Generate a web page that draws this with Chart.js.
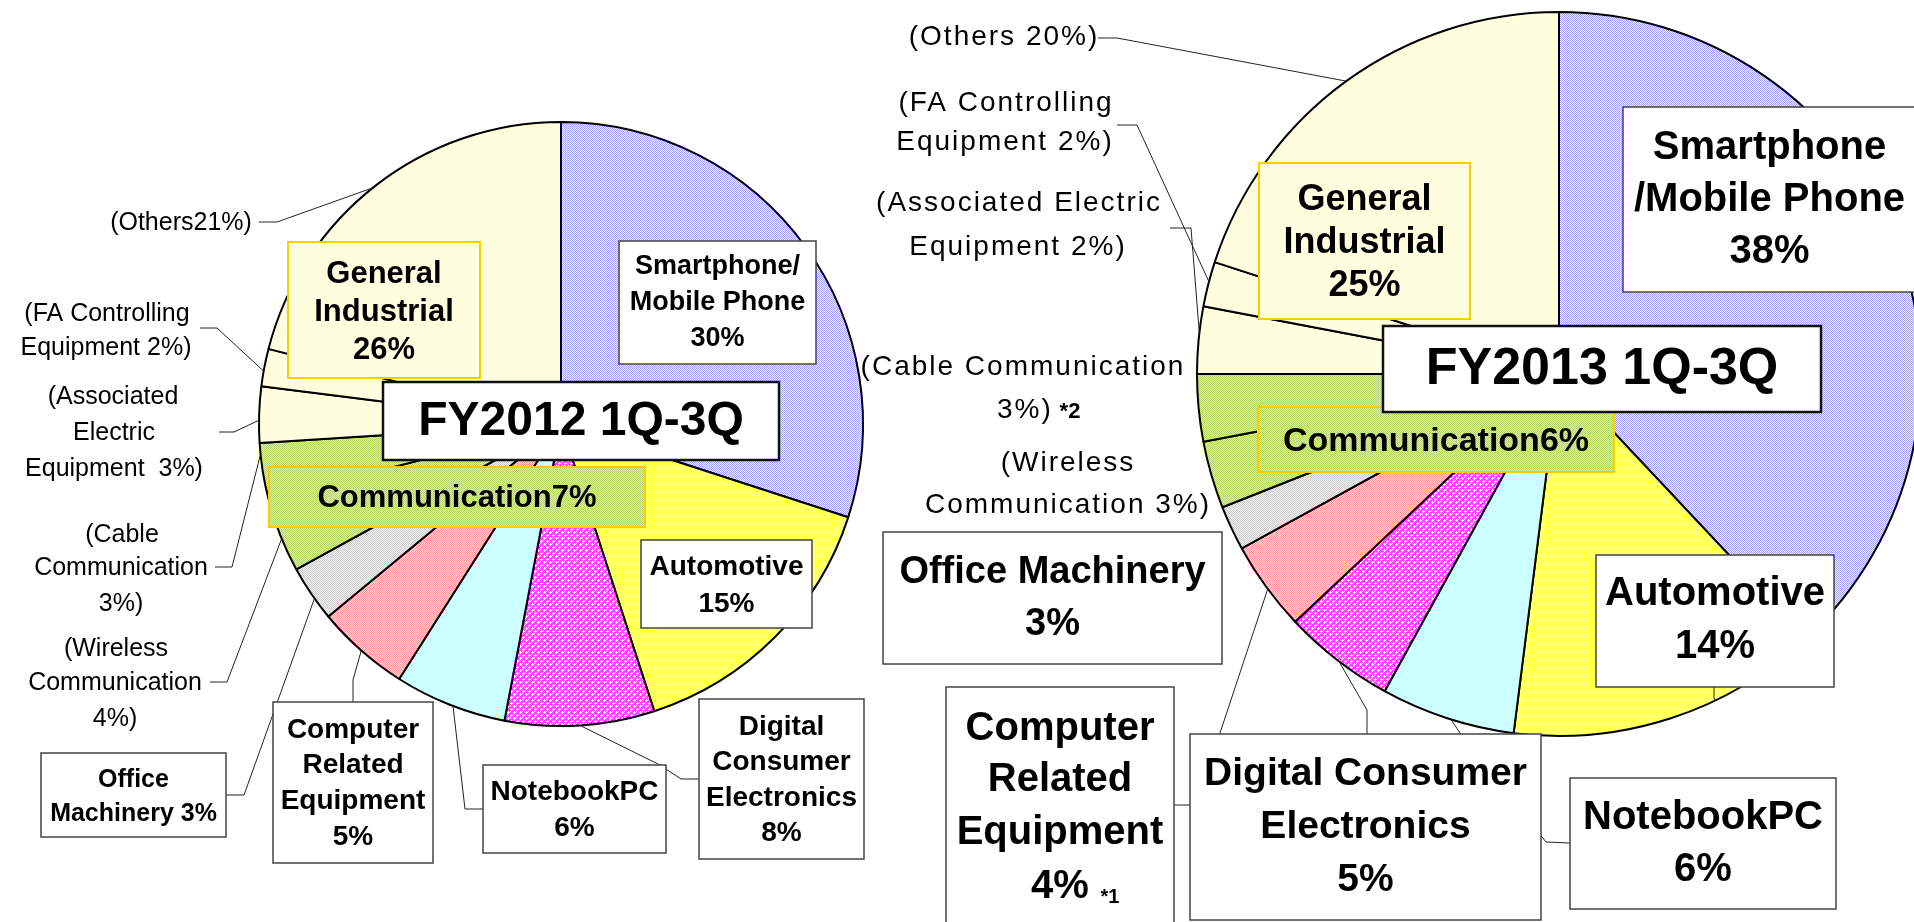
<!DOCTYPE html>
<html lang="en">
<head>
<meta charset="UTF-8">
<title>Sales by application FY2012 / FY2013 1Q-3Q</title>
<script src="https://cdn.jsdelivr.net/npm/chart.js"></script>
<style>
  html, body { margin: 0; padding: 0; background: #fff; overflow: hidden; width: 1914px; height: 922px; }
  canvas { position: absolute; left: 0; top: 0; }
</style>
</head>
<body>
<canvas id="pie2012" width="1914" height="922"></canvas>
<canvas id="pie2013" width="1930" height="922"></canvas>
<script>
// slices run clockwise from 12 o'clock
const segments2012 = ['Smartphone/Mobile Phone', 'Automotive', 'Digital Consumer Electronics', 'NotebookPC',
  'Computer Related Equipment', 'Office Machinery', 'Wireless Communication', 'Cable Communication',
  'Associated Electric Equipment', 'FA Controlling Equipment', 'Others'];
const share2012 = [30, 15, 8, 6, 5, 3, 4, 3, 3, 2, 21];

const segments2013 = ['Smartphone/Mobile Phone', 'Automotive', 'NotebookPC', 'Digital Consumer Electronics',
  'Computer Related Equipment', 'Office Machinery', 'Wireless Communication', 'Cable Communication',
  'Associated Electric Equipment', 'FA Controlling Equipment', 'Others'];
const share2013 = [38, 14, 6, 5, 4, 2, 3, 3, 3, 2, 20];

const FONT = "'Liberation Sans', Arial, sans-serif";

// small dithered fills like the original clip-art patterns
function tile(ctx, w, h, base, dotColor, dots) {
  const c = document.createElement('canvas');
  c.width = w; c.height = h;
  const g = c.getContext('2d');
  g.fillStyle = base;
  g.fillRect(0, 0, w, h);
  g.fillStyle = dotColor;
  dots.forEach(([x, y]) => g.fillRect(x, y, 1, 1));
  return ctx.createPattern(c, 'repeat');
}

function fills(ctx) {
  const chk = [[1, 0], [0, 1]];
  return {
    'Smartphone/Mobile Phone': tile(ctx, 2, 2, '#a8a8ff', '#e6e6ff', chk),
    'Automotive': tile(ctx, 2, 2, '#ffff55', '#ffffaa', chk),
    'Digital Consumer Electronics': tile(ctx, 6, 6, '#ff44ff', '#ffffff',
      [[1, 0], [0, 1], [1, 1], [2, 1], [1, 2], [4, 3], [3, 4], [4, 4], [5, 4], [4, 5], [0, 3], [3, 0]]),
    'NotebookPC': tile(ctx, 8, 8, '#ccffff', '#ffffff', [[1, 1], [5, 5]]),
    'Computer Related Equipment': tile(ctx, 2, 2, '#ff9c9c', '#ffd0d0', chk),
    'Office Machinery': tile(ctx, 2, 2, '#cfcfcf', '#eeeeee', chk),
    'Wireless Communication': tile(ctx, 2, 2, '#b5d66a', '#dcedaa', chk),
    'Cable Communication': tile(ctx, 2, 2, '#b5d66a', '#dcedaa', chk),
    'Associated Electric Equipment': '#ffffe0',
    'FA Controlling Equipment': '#ffffe0',
    'Others': '#ffffe0'
  };
}

function notesPlugin(cfg) {
  return {
    id: 'notes',
    afterDraw(chart) {
      const ctx = chart.ctx;
      const arcs = chart.getDatasetMeta(0).data;
      ctx.save();

      // leader lines, ending on the edge of their slice
      ctx.strokeStyle = '#222';
      ctx.lineWidth = 1;
      cfg.leaders.forEach(l => {
        const arc = arcs[l.slice];
        const a = arc.startAngle + l.at * (arc.endAngle - arc.startAngle);
        const r = arc.outerRadius;
        ctx.beginPath();
        ctx.moveTo(l.path[0][0], l.path[0][1]);
        l.path.slice(1).forEach(p => ctx.lineTo(p[0], p[1]));
        ctx.lineTo(arc.x + r * Math.cos(a), arc.y + r * Math.sin(a));
        ctx.stroke();
      });

      // boxed labels
      ctx.textAlign = 'center';
      ctx.textBaseline = 'middle';
      cfg.boxes.forEach(b => {
        ctx.fillStyle = b.fill || '#fff';
        ctx.fillRect(b.x1, b.y1, b.x2 - b.x1, b.y2 - b.y1);
        ctx.strokeStyle = b.stroke || '#444';
        ctx.lineWidth = b.lw || 1.5;
        ctx.strokeRect(b.x1, b.y1, b.x2 - b.x1, b.y2 - b.y1);
        ctx.fillStyle = '#000';
        ctx.font = 'bold ' + b.size + 'px ' + FONT;
        const cx = (b.x1 + b.x2) / 2;
        b.lines.forEach((t, i) => ctx.fillText(t, cx, b.ys[i]));
      });

      // plain labels
      cfg.texts.forEach(t => {
        ctx.font = (t.bold ? 'bold ' : '') + t.size + 'px ' + FONT;
        ctx.letterSpacing = (t.spacing || 0) + 'px';
        ctx.textAlign = t.align || 'center';
        ctx.fillStyle = '#000';
        ctx.fillText(t.text, t.x, t.y);
      });
      ctx.letterSpacing = '0px';
      ctx.restore();
    }
  };
}

function makePie(id, labels, values, pad, notes) {
  const canvas = document.getElementById(id);
  const f = fills(canvas.getContext('2d'));
  return new Chart(canvas, {
    type: 'pie',
    data: {
      labels: labels,
      datasets: [{
        data: values,
        backgroundColor: labels.map(l => f[l]),
        borderColor: '#000',
        borderWidth: 2
      }]
    },
    options: {
      responsive: false,
      animation: false,
      layout: { padding: pad },
      plugins: { legend: { display: false }, tooltip: { enabled: false } }
    },
    plugins: [notesPlugin(notes)]
  });
}

const gold = '#ffcc00';
const lightYellow = '#ffffe0';
const greenFill = c => tile(c, 2, 2, '#b5d66a', '#dcedaa', [[1, 0], [0, 1]]);

const ctx12 = document.getElementById('pie2012').getContext('2d');
const ctx13 = document.getElementById('pie2013').getContext('2d');

const small12 = (text, x, y) => ({ text, x, y, size: 25 });
const small13 = (text, x, y, align) => ({ text, x, y, size: 28, spacing: 2, align });

makePie('pie2012', segments2012, share2012, { left: 258, top: 121, right: 1050, bottom: 195 }, {
  leaders: [
    { slice: 10, at: 0.49, path: [[259, 222], [277, 222]] },
    { slice: 9, at: 0.4, path: [[200, 328], [217, 328]] },
    { slice: 8, at: 0.4, path: [[219, 432], [234, 432]] },
    { slice: 7, at: 0.8, path: [[215, 567], [232, 567]] },
    { slice: 6, at: 0.45, path: [[210, 682], [227, 682]] },
    { slice: 5, at: 0.4, path: [[226, 795], [244, 795]] },
    { slice: 4, at: 0.5, path: [[353, 702], [353, 680]] },
    { slice: 3, at: 0.47, path: [[483, 809], [465, 809]] },
    { slice: 2, at: 0.5, path: [[699, 779], [681, 779], [660, 765]] }
  ],
  boxes: [
    { x1: 619, y1: 241, x2: 816, y2: 364, lines: ['Smartphone/', 'Mobile Phone', '30%'], ys: [267, 303, 339], size: 27 },
    { x1: 288, y1: 242, x2: 480, y2: 378, fill: lightYellow, stroke: gold, lw: 2, lines: ['General', 'Industrial', '26%'], ys: [274, 312, 350], size: 31 },
    { x1: 383, y1: 382, x2: 779, y2: 460, stroke: '#111', lw: 2.5, lines: ['FY2012 1Q-3Q'], ys: [422], size: 48 },
    { x1: 269, y1: 467, x2: 645, y2: 527, fill: greenFill(ctx12), stroke: gold, lw: 2, lines: ['Communication7%'], ys: [498], size: 31 },
    { x1: 641, y1: 540, x2: 812, y2: 628, lines: ['Automotive', '15%'], ys: [567, 604], size: 28 },
    { x1: 699, y1: 699, x2: 864, y2: 859, lines: ['Digital', 'Consumer', 'Electronics', '8%'], ys: [727, 762, 798, 833], size: 28 },
    { x1: 483, y1: 765, x2: 666, y2: 853, lines: ['NotebookPC', '6%'], ys: [792, 828], size: 28 },
    { x1: 273, y1: 702, x2: 433, y2: 863, lines: ['Computer', 'Related', 'Equipment', '5%'], ys: [730, 765, 801, 837], size: 28 },
    { x1: 41, y1: 753, x2: 226, y2: 837, lines: ['Office', 'Machinery 3%'], ys: [780, 814], size: 25 }
  ],
  texts: [
    small12('(Others21%)', 181, 223),
    small12('(FA Controlling', 107, 314), small12('Equipment 2%)', 106, 348),
    small12('(Associated', 113, 397), small12('Electric', 114, 433), small12('Equipment  3%)', 114, 469),
    small12('(Cable', 122, 535), small12('Communication', 121, 568), small12('3%)', 121, 604),
    small12('(Wireless', 116, 649), small12('Communication', 115, 683), small12('4%)', 115, 719)
  ]
});

makePie('pie2013', segments2013, share2013, { left: 1196, top: 11, right: 8, bottom: 185 }, {
  leaders: [
    { slice: 10, at: 0.5, path: [[1098, 38], [1117, 38]] },
    { slice: 9, at: 0.55, path: [[1117, 125], [1137, 125]] },
    { slice: 8, at: 0.6, path: [[1170, 228], [1191, 228]] },
    { slice: 4, at: 0.47, path: [[1174, 805], [1190, 805], [1220, 733]] },
    { slice: 3, at: 0.48, path: [[1367, 734], [1367, 710]] },
    { slice: 2, at: 0.47, path: [[1570, 843], [1546, 842], [1460, 733]] },
    { slice: 1, at: 0.35, path: [[1714, 687], [1714, 698]] }
  ],
  boxes: [
    { x1: 1623, y1: 107, x2: 1916, y2: 292, lines: ['Smartphone', '/Mobile Phone', '38%'], ys: [148, 200, 252], size: 40 },
    { x1: 1259, y1: 163, x2: 1470, y2: 319, fill: lightYellow, stroke: gold, lw: 2, lines: ['General', 'Industrial', '25%'], ys: [200, 243, 286], size: 36 },
    { x1: 1258, y1: 407, x2: 1614, y2: 472, fill: greenFill(ctx13), stroke: gold, lw: 2, lines: ['Communication6%'], ys: [442], size: 34 },
    { x1: 1383, y1: 326, x2: 1821, y2: 412, stroke: '#111', lw: 2.5, lines: ['FY2013 1Q-3Q'], ys: [370], size: 52 },
    { x1: 1596, y1: 555, x2: 1834, y2: 687, lines: ['Automotive', '14%'], ys: [594, 647], size: 40 },
    { x1: 883, y1: 532, x2: 1222, y2: 664, lines: ['Office Machinery', '3%'], ys: [573, 625], size: 38 },
    { x1: 946, y1: 687, x2: 1174, y2: 930, lines: ['Computer', 'Related', 'Equipment', '4%'], ys: [729, 780, 833, 887], size: 40 },
    { x1: 1190, y1: 734, x2: 1541, y2: 920, lines: ['Digital Consumer', 'Electronics', '5%'], ys: [774, 827, 880], size: 39 },
    { x1: 1570, y1: 778, x2: 1836, y2: 909, lines: ['NotebookPC', '6%'], ys: [818, 870], size: 40 }
  ],
  texts: [
    small13('(Others 20%)', 1004, 37),
    small13('(FA Controlling', 1006, 103), small13('Equipment 2%)', 1005, 142),
    small13('(Associated Electric', 1019, 203), small13('Equipment 2%)', 1018, 247),
    small13('(Cable Communication', 1023, 367), small13('3%)', 997, 410, 'left'),
    { text: '*2', x: 1070, y: 412, size: 22, bold: true },
    small13('(Wireless', 1068, 463), small13('Communication 3%)', 1068, 505),
    { text: '*1', x: 1110, y: 897, size: 20, bold: true }
  ]
});
</script>
</body>
</html>
